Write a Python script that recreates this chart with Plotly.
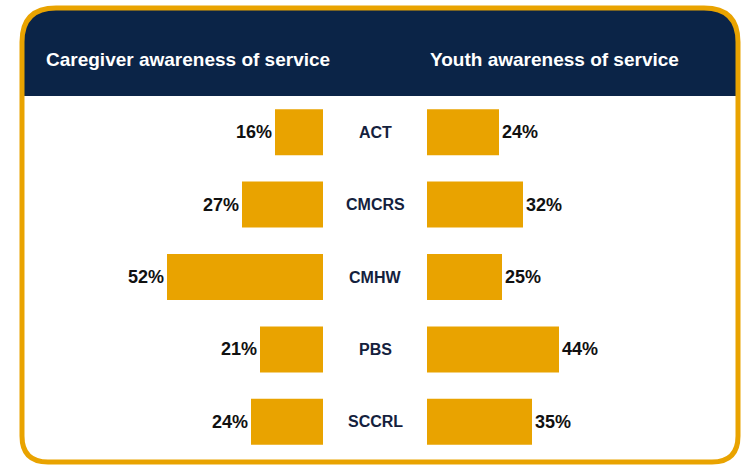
import plotly.graph_objects as go

categories = ["ACT", "CMCRS", "CMHW", "PBS", "SCCRL"]
caregiver = [16, 27, 52, 21, 24]
youth = [24, 32, 25, 44, 35]
left_title = "Caregiver awareness of service"
right_title = "Youth awareness of service"

W, H = 742, 466
ORANGE = "#E9A300"
NAVY = "#0B2447"
FONT = "Liberation Sans, Arial, sans-serif"


def px(x):
    return x / W


def py(y):
    return 1 - y / H


fig = go.Figure()
fig.add_trace(go.Bar(
    y=categories, x=caregiver, orientation="h", xaxis="x", yaxis="y",
    marker=dict(color=ORANGE, line=dict(width=0)), width=0.635,
    text=[f"{v}%" for v in caregiver], textposition="outside",
    textfont=dict(family=FONT, size=18, color="#111111", weight="bold"),
    cliponaxis=False, hoverinfo="skip", showlegend=False,
))
fig.add_trace(go.Bar(
    y=categories, x=youth, orientation="h", xaxis="x2", yaxis="y",
    marker=dict(color=ORANGE, line=dict(width=0)), width=0.635,
    text=[f"{v}%" for v in youth], textposition="outside",
    textfont=dict(family=FONT, size=18, color="#111111", weight="bold"),
    cliponaxis=False, hoverinfo="skip", showlegend=False,
))

# Category labels in the middle column
for c in categories:
    fig.add_annotation(x=px(375), y=c, xref="paper", yref="y", text=f"<b>{c}</b>",
                       showarrow=False, font=dict(family=FONT, size=16, color="#14213D"))

# Shapes: header band and rounded border
L, R, T, B = 22, 738, 8, 462
rt, rb = 34, 26
HB = 96
header = (f"M {px(L)} {py(HB)} L {px(L)} {py(T + rt)} Q {px(L)} {py(T)} {px(L + rt)} {py(T)} "
          f"L {px(R - rt)} {py(T)} Q {px(R)} {py(T)} {px(R)} {py(T + rt)} L {px(R)} {py(HB)} Z")
border = (f"M {px(L)} {py(T + rt)} Q {px(L)} {py(T)} {px(L + rt)} {py(T)} "
          f"L {px(R - rt)} {py(T)} Q {px(R)} {py(T)} {px(R)} {py(T + rt)} "
          f"L {px(R)} {py(B - rb)} Q {px(R)} {py(B)} {px(R - rb)} {py(B)} "
          f"L {px(L + rb)} {py(B)} Q {px(L)} {py(B)} {px(L)} {py(B - rb)} Z")
fig.add_shape(type="path", path=header, xref="paper", yref="paper",
              fillcolor=NAVY, line=dict(width=0), layer="below")
fig.add_shape(type="path", path=border, xref="paper", yref="paper",
              fillcolor="rgba(0,0,0,0)", line=dict(color=ORANGE, width=5), layer="above")

fig.add_annotation(x=px(44), y=py(59), xref="paper", yref="paper", xanchor="left", yanchor="middle",
                   text=f"<b>{left_title}</b>", showarrow=False,
                   font=dict(family=FONT, size=19, color="white"))
fig.add_annotation(x=px(428), y=py(59), xref="paper", yref="paper", xanchor="left", yanchor="middle",
                   text=f"<b>{right_title}</b>", showarrow=False,
                   font=dict(family=FONT, size=19, color="white"))

fig.update_layout(
    width=W, height=H, margin=dict(l=0, r=0, t=0, b=0),
    paper_bgcolor="white", plot_bgcolor="rgba(0,0,0,0)",
    barmode="overlay",
    xaxis=dict(domain=[px(143), px(323)], range=[60, 0], visible=False, fixedrange=True),
    xaxis2=dict(domain=[px(427), px(607)], range=[0, 60], visible=False, anchor="y", fixedrange=True),
    yaxis=dict(domain=[py(458), py(96)], range=[4.5, -0.5], visible=False, type="category", fixedrange=True),
)

fig.write_html("out.html", config={"displayModeBar": False},
               post_script="document.body.style.margin='0';document.body.style.overflow='hidden';")
